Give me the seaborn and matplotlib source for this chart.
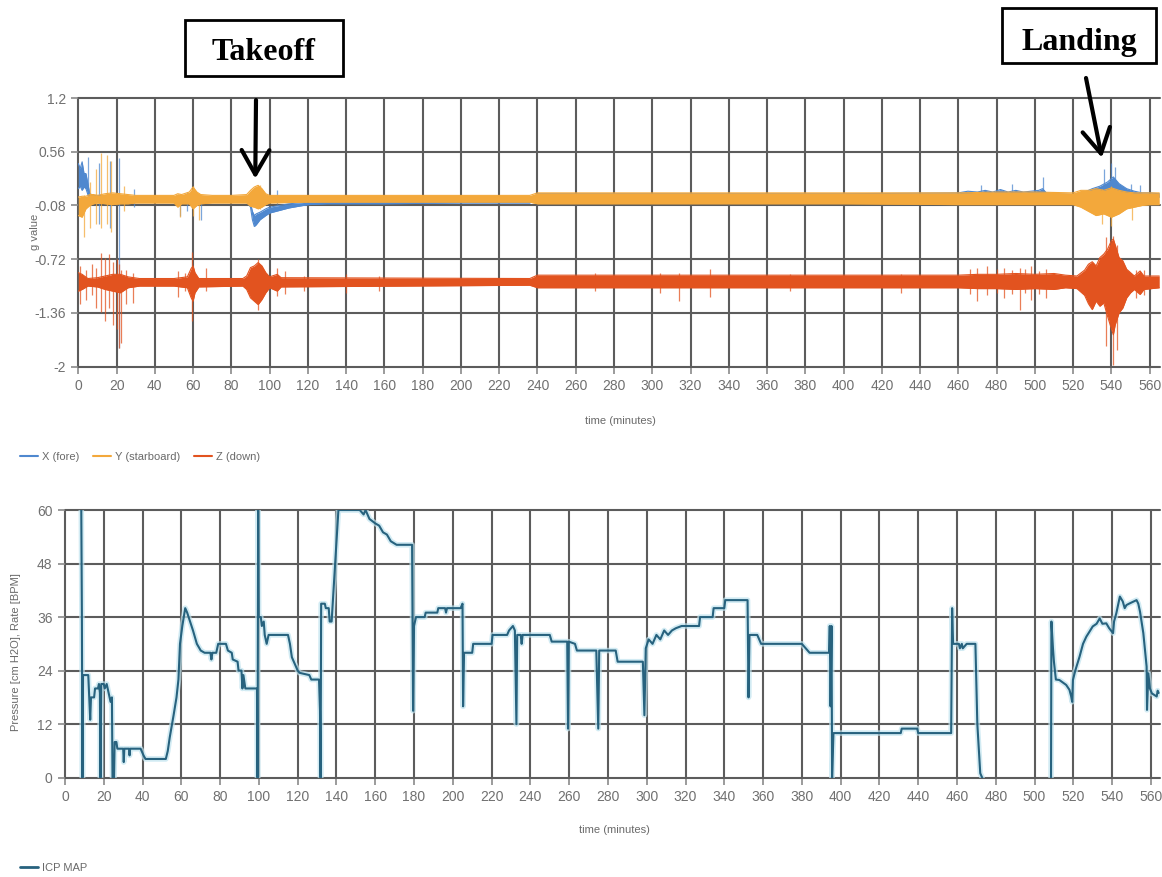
import numpy as np
import pandas as pd
import matplotlib
matplotlib.use("Agg")
import matplotlib.pyplot as plt
from matplotlib.patches import Rectangle
from matplotlib.lines import Line2D
import seaborn as sns

# ---------------- accelerometer channels (g value) ----------------
# Each channel: time knots (minutes) with the lower / upper edge of its trace.
x_t = [0, 1, 2, 3, 4, 5, 6, 8, 10, 15, 20, 40, 60, 80, 88, 90, 91, 92, 93, 95, 98, 100,
       105, 110, 115, 120, 130, 140, 160, 200, 236, 240, 300, 400, 460, 465, 470, 474, 478,
       482, 486, 490, 494, 498, 502, 504, 506, 510, 520, 526, 530, 534, 538, 541, 544, 548,
       552, 556, 560, 565]
x_lo = [0.12, 0.15, 0.10, 0.14, 0.12, 0.05, 0.00, -0.01, -0.01, 0.00, -0.01, -0.02, -0.02,
        -0.02, -0.03, -0.10, -0.25, -0.33, -0.31, -0.25, -0.20, -0.17, -0.14, -0.11, -0.09,
        -0.07, -0.06, -0.06, -0.06, -0.05, -0.05, 0.04, 0.04, 0.04, 0.04, 0.04, 0.04, 0.04,
        0.04, 0.04, 0.04, 0.04, 0.04, 0.04, 0.04, 0.04, 0.03, 0.02, 0.02, 0.02, 0.04, 0.02,
        0.04, 0.06, 0.04, 0.03, 0.02, 0.02, 0.02, 0.02]
x_hi = [0.42, 0.36, 0.44, 0.30, 0.30, 0.18, 0.06, 0.04, 0.04, 0.03, 0.03, 0.02, 0.02, 0.02,
        0.00, -0.05, -0.15, -0.20, -0.18, -0.16, -0.12, -0.10, -0.08, -0.06, -0.05, -0.04,
        -0.03, -0.03, -0.03, -0.02, -0.02, 0.06, 0.06, 0.06, 0.07, 0.09, 0.08, 0.10, 0.08,
        0.11, 0.08, 0.10, 0.08, 0.09, 0.10, 0.12, 0.07, 0.06, 0.05, 0.08, 0.12, 0.15, 0.20,
        0.26, 0.18, 0.12, 0.09, 0.07, 0.07, 0.06]

y_t = [0, 2, 4, 6, 8, 10, 14, 18, 22, 26, 30, 40, 50, 52, 54, 58, 60, 62, 64, 70, 80, 88,
       90, 92, 94, 96, 98, 100, 120, 160, 200, 236, 240, 300, 400, 460, 480, 500, 520, 524,
       528, 532, 536, 540, 544, 548, 552, 556, 560, 565]
y_lo = [-0.20, -0.22, -0.12, -0.08, -0.06, -0.05, -0.06, -0.07, -0.06, -0.06, -0.05, -0.05,
        -0.05, -0.10, -0.06, -0.06, -0.12, -0.08, -0.06, -0.05, -0.05, -0.05, -0.09, -0.10,
        -0.12, -0.10, -0.07, -0.05, -0.04, -0.04, -0.04, -0.04, -0.06, -0.06, -0.06, -0.07,
        -0.07, -0.07, -0.07, -0.10, -0.15, -0.20, -0.18, -0.22, -0.18, -0.12, -0.10, -0.08,
        -0.07, -0.07]
y_hi = [0.02, 0.03, 0.03, 0.05, 0.05, 0.04, 0.06, 0.07, 0.06, 0.05, 0.04, 0.04, 0.04, 0.06,
        0.05, 0.08, 0.14, 0.08, 0.05, 0.04, 0.04, 0.05, 0.10, 0.14, 0.16, 0.12, 0.06, 0.04,
        0.04, 0.04, 0.04, 0.04, 0.07, 0.07, 0.07, 0.07, 0.08, 0.08, 0.07, 0.10, 0.10, 0.12,
        0.10, 0.13, 0.10, 0.08, 0.07, 0.07, 0.07, 0.07]

z_t = [0, 2, 5, 10, 14, 18, 22, 26, 32, 50, 57, 59, 60, 61, 63, 86, 88, 90, 92, 94, 96, 98,
       100, 104, 106, 236, 240, 460, 470, 480, 490, 500, 510, 516, 522, 526, 528, 530, 532,
       534, 536, 538, 540, 541, 542, 544, 546, 548, 550, 552, 555, 557, 565]
z_lo = [-1.10, -1.08, -1.04, -1.05, -1.08, -1.10, -1.12, -1.06, -1.04, -1.04, -1.06, -1.18,
        -1.22, -1.12, -1.05, -1.04, -1.08, -1.18, -1.22, -1.26, -1.20, -1.12, -1.06, -1.10,
        -1.05, -1.03, -1.06, -1.06, -1.07, -1.07, -1.08, -1.07, -1.08, -1.06, -1.07, -1.15,
        -1.25, -1.32, -1.22, -1.28, -1.24, -1.40, -1.55, -1.62, -1.50, -1.36, -1.30, -1.18,
        -1.12, -1.08, -1.14, -1.08, -1.06]
z_hi = [-0.88, -0.90, -0.95, -0.94, -0.92, -0.90, -0.90, -0.93, -0.95, -0.95, -0.93, -0.83,
        -0.80, -0.88, -0.95, -0.95, -0.92, -0.82, -0.80, -0.76, -0.80, -0.88, -0.93, -0.90,
        -0.94, -0.95, -0.91, -0.91, -0.90, -0.90, -0.89, -0.90, -0.89, -0.91, -0.92, -0.85,
        -0.78, -0.75, -0.80, -0.70, -0.66, -0.60, -0.50, -0.48, -0.55, -0.70, -0.74, -0.84,
        -0.88, -0.92, -0.86, -0.92, -0.92]

# isolated spikes: (time, low, high)
x_spikes = [(5, -0.05, 0.50), (11, -0.30, 0.42), (16.5, -0.35, 0.45), (21.5, -1.78, 0.48),
            (29, -0.10, 0.12), (53, -0.20, 0.05), (57, -0.15, 0.08), (64, -0.25, 0.04),
            (104, -0.06, 0.10), (472, 0.04, 0.16), (488, 0.04, 0.18), (504, 0.00, 0.26),
            (536, 0.00, 0.35), (540, 0.00, 0.42), (542, 0.00, 0.38), (550, 0.00, 0.18),
            (555, -0.05, 0.16)]
y_spikes = [(3, -0.45, 0.05), (6, -0.35, 0.20), (9, -0.30, 0.35), (12, -0.35, 0.55),
            (15, -0.30, 0.52), (17, -0.40, 0.45), (24, -0.15, 0.15), (53, -0.22, 0.06),
            (60, -0.20, 0.15), (63, -0.25, 0.05), (95, -0.12, 0.16), (535, -0.30, 0.12),
            (540, -0.33, 0.15), (551, -0.25, 0.08)]
z_spikes = [(1, -1.25, -0.80), (4, -1.20, -0.85), (7, -1.15, -0.78), (9, -1.30, -0.82),
            (12, -1.35, -0.65), (14, -1.45, -0.70), (16, -1.30, -0.66), (18, -1.50, -0.75),
            (20, -1.55, -0.72), (21.5, -1.78, -0.78), (22.5, -1.72, -0.85), (25, -1.25, -0.85),
            (28.5, -1.24, -0.88), (52, -1.17, -0.86), (56, -1.10, -0.88), (59.5, -1.46, -0.63),
            (67, -1.10, -0.82), (94, -1.32, -0.72), (104, -1.16, -0.83), (108, -1.14, -0.86),
            (118, -1.10, -0.92), (140, -1.12, -0.90), (157, -1.10, -0.92), (270, -1.10, -0.88),
            (304, -1.12, -0.88), (314, -1.22, -0.88), (330, -1.17, -0.84), (372, -1.10, -0.90),
            (430, -1.12, -0.90), (466, -1.14, -0.84), (470, -1.22, -0.82), (475, -1.15, -0.80),
            (480, -1.12, -0.84), (484, -1.18, -0.82), (488, -1.14, -0.85), (492, -1.32, -0.83),
            (495, -1.12, -0.84), (498, -1.20, -0.80), (502, -1.14, -0.86), (506, -1.18, -0.84),
            (537, -1.75, -0.45), (541, -1.98, -0.44), (543, -1.80, -0.55), (553, -1.18, -0.85),
            (557, -1.15, -0.85)]

channel_names = ["X (fore)", "Y (starboard)", "Z (down)"]
channel_colors = ["#4f88cf", "#f3a83b", "#e2531f"]

g_ticks = [1.2, 0.56, -0.08, -0.72, -1.36, -2]
g_tick_labels = ["1.2", "0.56", "-0.08", "-0.72", "-1.36", "-2"]

# ---------------- ICP MAP (cm H2O) ----------------
icp_t_a = [8.4, 8.7, 9.0, 9.3, 12.0, 12.5, 13.0, 13.4, 15, 15.5, 17, 17.5, 18, 18.3, 18.7,
           20, 20.5, 21.5, 22.5, 23.5, 24.2, 24.5, 25.3, 25.6, 26.5, 27, 30, 30.3, 30.6, 33,
           33.3, 33.6, 39, 40.5, 41.5, 52, 53, 54, 56, 57.5, 58.5, 59.3, 60.5, 62, 63, 64.5,
           66, 68, 70, 72, 75, 75.5, 76, 78, 79, 83, 84, 86, 86.5, 89, 89.5, 91, 91.5, 92,
           93, 99, 99.3, 99.6, 99.9, 101, 101.5, 102.5, 103, 104, 105, 115, 116, 117, 118,
           119, 120, 121, 126, 127, 131, 131.5, 131.8, 132.1, 134, 134.5, 136, 136.5, 137.5,
           141, 152, 154, 155, 157, 160, 162, 164, 166, 168, 171, 179, 179.5, 180, 181,
           185.5, 186, 192, 192.5, 196, 196.5, 197, 204, 205, 205.3, 205.8, 210, 210.5, 220,
           220.5, 228, 229, 231, 232, 232.8, 233.2, 235, 235.5, 236, 250, 251, 259, 259.4,
           259.8, 263, 264, 274, 275, 275.5, 284, 285, 298, 298.8, 299.5, 301, 303, 305, 307,
           309, 311, 313, 315, 318, 327, 327.5, 334, 334.5, 340, 340.5, 352, 352.5, 353, 357,
           359, 380, 382, 384, 394, 394.4, 394.8, 395.3, 395.6, 396.3, 431, 431.5, 439.5,
           440, 457, 457.5, 458, 461, 461.5, 462.5, 463, 465, 469.5, 470.5, 472, 473]
icp_v_a = [60, 37, 0, 23, 23, 18, 13, 18, 18, 20, 20, 21, 19, 0, 21,
           21, 20, 21, 19, 17, 18, 0, 0, 8, 8, 6.5, 6.5, 3.5, 6.5, 6.5,
           5, 6.5, 6.5, 5, 4.2, 4.2, 6, 9, 14, 18, 22, 30, 34, 38, 37, 35,
           33, 30, 28.5, 28, 28, 26.5, 28, 28, 30, 30, 28.5, 28, 26.5, 26, 24, 24, 20, 23,
           20, 20, 0, 60, 36, 36, 34, 35, 32, 30, 32, 32, 30, 27, 26,
           25, 24, 23.5, 23, 22, 22, 15, 0, 39, 39, 38, 38, 35, 35,
           60, 60, 59, 60, 58, 57, 56.5, 55, 54.5, 53, 52.2, 52.2, 15, 34, 36,
           36, 37, 37, 38, 38, 37, 38, 38, 39, 16, 28, 28, 30, 30,
           32, 32, 33, 34, 33, 12, 32, 32, 30, 32, 32, 30.5, 30.5, 11,
           30.5, 30, 28.5, 28.5, 11, 28.5, 28.5, 26, 26, 14, 29, 31, 30, 32, 31,
           33, 32, 33, 33.5, 34, 34, 36, 36, 38, 38, 39.8, 39.8, 18, 32, 32,
           30, 30, 29, 28, 28, 34, 16, 34, 0, 10, 10, 11, 11,
           10, 10, 38, 30, 30, 29, 30, 29, 30, 30, 12, 1, 0]
icp_t_b = [508.5, 508.7, 509.5, 510, 511, 512.8, 516.3, 518, 518.9, 519.4, 519.8, 521, 523.2,
           525, 526.7, 528, 530, 532, 533.6, 535, 537, 538.5, 540.5, 541, 542.2, 544, 545.5,
           546.5, 547.4, 549.2, 552.6, 553.5, 554.4, 556.1, 557.8, 558, 558.7, 559.5, 560.5,
           563, 563.5, 564]
icp_v_b = [0, 35, 29, 26, 22, 21.9, 20.8, 19.7, 18.2, 17, 21.9, 24, 27.1,
           30, 31.6, 32.5, 33.9, 34.5, 35.7, 34.5, 34.6, 33.5, 32.4, 35, 36.9, 40.6, 39.5,
           38, 38.7, 39.1, 39.8, 39, 37.2, 32.4, 24.9, 15.2, 23.4, 20, 18.9,
           18.2, 19.5, 19]

icp_ticks = [0, 12, 24, 36, 48, 60]
time_ticks = list(range(0, 561, 20))

# ---------------- figure ----------------
W, H = 1162, 877
sns.set_theme(style="white")
plt.rcParams["font.family"] = ["Liberation Sans Narrow", "Liberation Sans", "DejaVu Sans"]

fig = plt.figure(figsize=(W / 100, H / 100), dpi=100)


def fpos(x0, y0, x1, y1):
    """Figure-pixel box (top-left origin) -> fig fraction rect."""
    return [x0 / W, 1 - y1 / H, (x1 - x0) / W, (y1 - y0) / H]


AX1_BOX = (78.3, 98, 1160, 366.7)
AX2_BOX = (65, 510, 1160, 777.7)
ax1 = fig.add_axes(fpos(*AX1_BOX))
ax2 = fig.add_axes(fpos(*AX2_BOX))

grid_kw = dict(color="#5c5c5c", linewidth=1.5)
tick_color = "#707070"
label_color = "#6a6a6a"


def style_axes(ax):
    for s in ax.spines.values():
        s.set_visible(False)
    ax.grid(True, axis="both", **grid_kw)
    ax.set_axisbelow(True)
    for gl in ax.get_xgridlines() + ax.get_ygridlines():
        gl.set_clip_on(False)
    ax.tick_params(axis="both", which="major", length=5, width=1.2, color="#8a8a8a",
                   labelcolor=tick_color, labelsize=10, pad=4, direction="out",
                   bottom=True, left=True)


def place_labels(ax, box, xlab_y, ylab_x):
    x0, y0, x1, y1 = box
    ax.xaxis.set_label_coords(0.5 * (1160 + x0) / (x1 - x0) - x0 / (x1 - x0) + 0.0,
                              1 - (xlab_y - y0) / (y1 - y0))
    ax.yaxis.set_label_coords((ylab_x - x0) / (x1 - x0), 0.5)


# ---- top: acceleration ----
xdat = [(x_t, x_lo, x_hi, x_spikes), (y_t, y_lo, y_hi, y_spikes), (z_t, z_lo, z_hi, z_spikes)]
for (t, lo, hi, spk), name, col in zip(xdat, channel_names, channel_colors):
    ax1.fill_between(t, lo, hi, color=col, linewidth=0, zorder=2)
    env = pd.DataFrame({"t": t + t, "g": lo + hi,
                        "edge": ["lo"] * len(t) + ["hi"] * len(t)})
    sns.lineplot(data=env, x="t", y="g", units="edge", estimator=None, color=col,
                 linewidth=0.8, ax=ax1, zorder=2, legend=False)
    st, sl, sh = zip(*spk)
    ax1.vlines(st, sl, sh, colors=col, linewidth=0.9, alpha=0.75, zorder=2)

ax1.set_xlim(0, 565.4)
ax1.set_ylim(-2, 1.2)
ax1.set_xticks(time_ticks)
ax1.set_yticks(g_ticks)
ax1.set_yticklabels(g_tick_labels)
style_axes(ax1)
ax1.set_xlabel("time (minutes)", fontsize=8, color=label_color)
ax1.set_ylabel("g value", fontsize=8, color=label_color)
ax1.xaxis.set_label_coords((620 - AX1_BOX[0]) / (AX1_BOX[2] - AX1_BOX[0]),
                           1 - (421 - AX1_BOX[1]) / (AX1_BOX[3] - AX1_BOX[1]))
ax1.yaxis.set_label_coords((35 - AX1_BOX[0]) / (AX1_BOX[2] - AX1_BOX[0]), 0.5)
ax1.xaxis.label.set_va("center")
ax1.yaxis.label.set_va("center")

handles = [Line2D([], [], color=c, lw=1.5) for c in channel_colors]
fig.legend(handles, channel_names, loc="center left",
           bbox_to_anchor=(10 / W, 1 - 457 / H), frameon=False, ncol=3, fontsize=8,
           handlelength=1.6, handletextpad=0.4, columnspacing=1.2, labelcolor=label_color)

# ---- bottom: ICP MAP ----
icp = pd.DataFrame({"t": icp_t_a + icp_t_b, "v": icp_v_a + icp_v_b,
                    "seg": [0] * len(icp_t_a) + [1] * len(icp_t_b)})
sns.lineplot(data=icp, x="t", y="v", units="seg", estimator=None, color="#bfe3ef",
             linewidth=4, alpha=0.7, ax=ax2, legend=False)
sns.lineplot(data=icp, x="t", y="v", units="seg", estimator=None, color="#27627e",
             linewidth=1.5, ax=ax2, legend=False)
ax2.set_xlim(0, 564.7)
ax2.set_ylim(0, 60)
ax2.set_xticks(time_ticks)
ax2.set_yticks(icp_ticks)
style_axes(ax2)
ax2.set_xlabel("time (minutes)", fontsize=8, color=label_color)
ax2.set_ylabel("Pressure [cm H2O], Rate [BPM]", fontsize=8, color=label_color)
ax2.xaxis.set_label_coords((614 - AX2_BOX[0]) / (AX2_BOX[2] - AX2_BOX[0]),
                           1 - (830 - AX2_BOX[1]) / (AX2_BOX[3] - AX2_BOX[1]))
ax2.yaxis.set_label_coords((16 - AX2_BOX[0]) / (AX2_BOX[2] - AX2_BOX[0]), 0.47)
ax2.xaxis.label.set_va("center")
ax2.yaxis.label.set_va("center")

fig.legend([Line2D([], [], color="#27627e", lw=2)], ["ICP MAP"], loc="center left",
           bbox_to_anchor=(10 / W, 1 - 868 / H), frameon=False, fontsize=8,
           handlelength=1.6, handletextpad=0.4, labelcolor=label_color)

# ---- event call-outs ----
serif = ["Liberation Serif", "DejaVu Serif"]


def callout(label, box, baseline, tip_t, tip_g, tail_px):
    x0, y0, x1, y1 = box
    fig.add_artist(Rectangle((x0 / W, 1 - y1 / H), (x1 - x0) / W, (y1 - y0) / H,
                             transform=fig.transFigure, fill=False, edgecolor="black",
                             linewidth=2))
    fig.text((x0 + x1) / 2 / W, 1 - baseline / H, label, ha="center", va="baseline",
             fontsize=23, fontweight="bold", family=serif, color="black")
    ax1.annotate("", xy=(tip_t, tip_g), xycoords="data",
                 xytext=(tail_px[0] / W, 1 - tail_px[1] / H), textcoords="figure fraction",
                 arrowprops=dict(arrowstyle="->,head_length=0.7,head_width=0.4",
                                 lw=3, color="black", mutation_scale=25,
                                 shrinkA=0, shrinkB=0),
                 annotation_clip=False)


callout("Takeoff", (185, 20, 343, 76), 60, 92.5, 0.24, (256, 100))
callout("Landing", (1002, 8, 1156, 63), 50, 535, 0.49, (1086, 78))

fig.savefig("out.png", dpi=100)
